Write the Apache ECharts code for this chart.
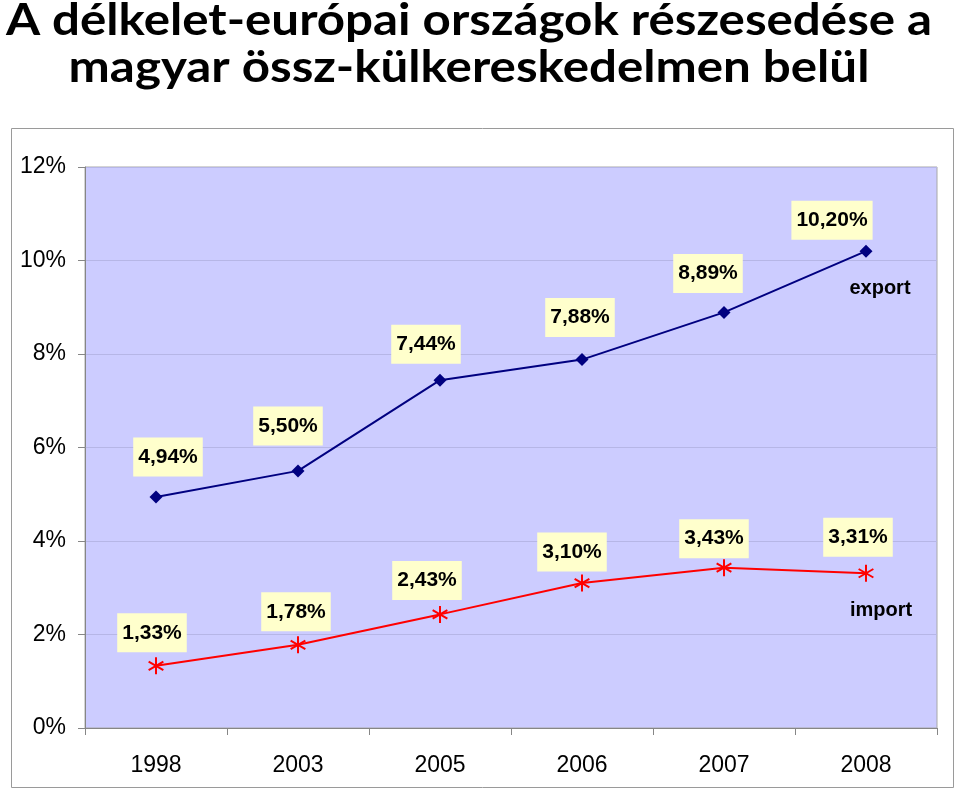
<!DOCTYPE html>
<html>
<head>
<meta charset="utf-8">
<script src="https://cdn.jsdelivr.net/npm/echarts@6/dist/echarts.min.js"></script>
<style>html,body{margin:0;padding:0;background:#fff;}#c{width:960px;height:790px;}</style>
</head>
<body>
<div id="c"></div>
<script>
const categories = ['1998', '2003', '2005', '2006', '2007', '2008'];
const exportValues = [4.94, 5.50, 7.44, 7.88, 8.89, 10.20];
const importValues = [1.33, 1.78, 2.43, 3.10, 3.43, 3.31];
const yTicks = [0, 2, 4, 6, 8, 10, 12];
const titleLines = ['A délkelet-európai országok részesedése a', 'magyar össz-külkereskedelmen belül'];
const seriesNames = ['export', 'import'];

// label offsets (px) relative to each point, for placement only
const exportLabelOffsets = [[12, -40], [-10, -45], [-14, -36], [-2, -42], [-16, -39], [-34, -31]];
const importLabelOffsets = [[-4, -33], [-2, -33], [-13, -34], [-10, -31], [-10, -29], [-8, -36]];

const fmt = v => v.toFixed(2).replace('.', ',') + '%';

function buildData(values, offsets) {
  return values.map((v, i) => ({
    value: v,
    label: { offset: offsets[i] }
  }));
}

const labelStyle = {
  show: true,
  position: 'inside',
  formatter: p => fmt(p.value),
  fontFamily: 'Liberation Sans, Arial, sans-serif',
  fontWeight: 'bold',
  fontSize: 21,
  color: '#000',
  backgroundColor: '#FFFFCC',
  padding: [10, 5, 8, 5]
};

const titleFont = 'bold 44px Lato, Carlito, sans-serif';

const chart = echarts.init(document.getElementById('c'), null, { renderer: 'canvas' });
chart.setOption({
  animation: false,
  backgroundColor: '#fff',
  graphic: [
    {
      type: 'group',
      x: 469, y: 21,
      scaleX: 1.12,
      children: [{
        type: 'text', x: 0, y: 0,
        style: { text: titleLines[0], font: titleFont, fill: '#000', align: 'center', verticalAlign: 'middle' }
      }]
    },
    {
      type: 'group',
      x: 469, y: 68,
      scaleX: 1.12,
      children: [{
        type: 'text', x: 0, y: 0,
        style: { text: titleLines[1], font: titleFont, fill: '#000', align: 'center', verticalAlign: 'middle' }
      }]
    },
    {
      type: 'rect',
      shape: { x: 11.5, y: 128.5, width: 942, height: 659 },
      style: { fill: 'none', stroke: '#9A9A9A', lineWidth: 1 },
      z: -1
    },
    {
      type: 'text',
      x: 880, y: 288,
      style: {
        text: seriesNames[0],
        font: 'bold 20px "Liberation Sans", Arial, sans-serif',
        fill: '#000', align: 'center', verticalAlign: 'middle'
      },
      z: 100
    },
    {
      type: 'text',
      x: 881, y: 610,
      style: {
        text: seriesNames[1],
        font: 'bold 20px "Liberation Sans", Arial, sans-serif',
        fill: '#000', align: 'center', verticalAlign: 'middle'
      },
      z: 100
    }
  ],
  grid: {
    left: 85, right: 23, top: 167, bottom: 62,
    show: true,
    backgroundColor: '#CCCCFF',
    borderColor: '#A8A8A8',
    borderWidth: 1
  },
  xAxis: {
    type: 'category',
    data: categories,
    boundaryGap: true,
    axisLine: { show: true, lineStyle: { color: '#868686', width: 1 } },
    axisTick: { show: true, length: 7, alignWithLabel: false, lineStyle: { color: '#868686' } },
    axisLabel: {
      margin: 26,
      fontFamily: 'Liberation Sans, Arial, sans-serif',
      fontSize: 23,
      color: '#000'
    },
    splitLine: { show: false }
  },
  yAxis: {
    type: 'value',
    min: yTicks[0],
    max: yTicks[yTicks.length - 1],
    interval: yTicks[1] - yTicks[0],
    axisLine: { show: true, lineStyle: { color: '#868686', width: 1 } },
    axisTick: { show: true, length: 7, lineStyle: { color: '#868686' } },
    axisLabel: {
      margin: 19,
      formatter: v => v + '%',
      fontFamily: 'Liberation Sans, Arial, sans-serif',
      fontSize: 23,
      color: '#000'
    },
    splitLine: { show: true, lineStyle: { color: '#B6B6E6', width: 1 } }
  },
  series: [
    {
      name: seriesNames[0],
      type: 'line',
      data: buildData(exportValues, exportLabelOffsets),
      symbol: 'diamond',
      symbolSize: 13,
      lineStyle: { color: '#000080', width: 2 },
      itemStyle: { color: '#000080' },
      label: labelStyle,
      z: 3
    },
    {
      name: seriesNames[1],
      type: 'line',
      data: buildData(importValues, importLabelOffsets),
      symbol: 'path://M0,-10L0,10M-8.66,-5L8.66,5M-8.66,5L8.66,-5',
      symbolSize: 17,
      symbolKeepAspect: true,
      lineStyle: { color: '#FF0000', width: 2 },
      itemStyle: { color: 'none', borderColor: '#FF0000', borderWidth: 2 },
      label: labelStyle,
      z: 3
    }
  ]
});
</script>
</body>
</html>
